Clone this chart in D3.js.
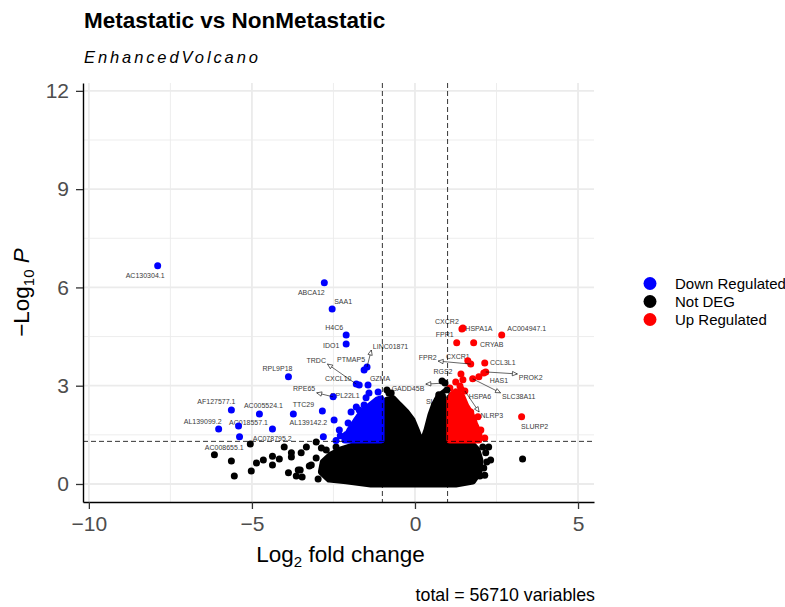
<!DOCTYPE html>
<html>
<head>
<meta charset="utf-8">
<script src="https://cdn.jsdelivr.net/npm/d3@7"></script>
<style>
  body { margin: 0; background: #fff; }
  svg { display: block; }
  text { font-family: "Liberation Sans", Arial, sans-serif; }
</style>
</head>
<body>
<svg id="chart" width="785" height="607"></svg>
<script>
// ---- data -------------------------------------------------------------
const xTicks = [-10, -5, 0, 5];
const xMinor = [-7.5, -2.5, 2.5];
const yTicks = [0, 3, 6, 9, 12];
const yMinor = [1.5, 4.5, 7.5, 10.5];
const fcCutoff = 1;
const pCutoff = 0.05;
const totalVariables = 56710;
const legendLabels = ["Down Regulated", "Not DEG", "Up Regulated"];

// labelled genes: name, log2 fold change, -log10 p
const labelGenes = ["AC130304.1","ABCA12","SAA1","H4C6","IDO1","LINC01871","PTMAP5","TRDC","CXCL10","GZMA",
  "RPE65","RPL22L1","TTC29","AL139142.2","RPL9P18","AF127577.1","AC005524.1","AL139099.2","AC018557.1","AC078795.2",
  "AC008655.1","CXCR2","HSPA1A","AC004947.1","FPR1","CRYAB","FPR2","CXCR1","CCL3L1","PROK2",
  "HAS1","SLC38A11","RGS2","GADD45B","SLC2A3","HSPA6","NLRP3","GBP4","SLURP2"];
const labelFC = [-7.89,-2.78,-2.54,-2.11,-2.11,-1.47,-1.56,-1.80,-1.71,-1.44,
  -2.51,-1.50,-3.73,-2.84,-3.88,-5.63,-4.77,-6.02,-5.41,-4.01,
  -5.05,1.44,1.47,2.66,1.28,1.80,1.71,1.62,2.14,2.17,
  1.96,1.77,1.41,0.92,0.98,1.41,1.53,-0.80,3.27];
const labelP = [6.66,6.14,5.34,4.55,4.27,3.57,3.48,3.05,3.02,3.02,
  2.66,2.63,2.14,2.23,3.27,2.26,2.14,1.68,1.77,1.13,
  1.22,4.73,4.76,4.55,4.31,4.31,3.66,3.76,3.69,3.42,
  3.27,3.21,3.36,3.08,2.87,2.90,2.84,2.78,2.05];

// unlabelled genes [log2FC, -log10 p]
const downPoints = [[-1.41,2.78],[-1.13,2.81],[-1.96,2.20],[-1.80,2.35],[-2.48,1.95],[-2.81,1.44],
  [-2.32,1.65],[-5.38,1.44],[-4.37,1.68],[-2.11,1.50],[-2.05,1.86],[-2.29,1.47],[-2.42,1.33],
  [-1.71,2.26],[-1.56,2.41]];
const upPoints = [[2.11,3.39],[1.25,3.11],[1.38,2.99],[1.47,3.18],[1.93,2.05],[2.02,1.65],
  [2.14,1.40],[1.71,2.20],[1.07,2.93]];
const nsPoints = [[-6.15,0.89],[-5.63,0.70],[-5.54,0.24],[-5.02,0.40],[-4.86,0.64],[-4.65,0.73],
  [-4.37,0.85],[-4.37,0.58],[-4.16,0.76],[-3.88,0.34],[-3.79,0.95],[-3.64,0.24],[-3.52,0.43],
  [-3.49,0.95],[-3.33,1.13],[-3.03,1.28],[-3.03,0.79],[-2.97,0.15],[-2.72,1.04],[-2.66,0.24],
  [-2.51,0.73],[-2.26,0.27],[-3.24,0.55],[1.99,0.24],[2.11,0.49],[2.17,0.95],[2.08,1.13],
  [2.32,0.73],[3.30,0.76],[-0.86,2.87],[-0.73,2.78],[0.83,3.14],[0.86,2.63],[0.73,2.72],
  [-3.79,0.82],[-3.58,0.43],[-3.46,0.21],[-3.18,0.58],[-2.87,1.10],[-2.81,0.58],[-2.42,1.13],
  [2.20,0.67],[2.14,0.27],[2.26,1.13]];

// outlines of the overplotted cores [log2FC, -log10 p]
const nsCore = [[-2.87,0.37],[-2.81,0.67],[-2.57,0.89],[-2.26,1.04],[-1.90,1.16],[-1.47,1.25],
  [-1.10,1.28],[-0.98,1.59],[-0.98,2.02],[-0.95,2.38],[-0.86,2.56],[-0.67,2.60],[-0.49,2.41],
  [-0.28,2.20],[-0.09,1.95],[0.06,1.59],[0.21,1.19],[0.37,1.65],[0.49,2.11],[0.61,2.44],
  [0.73,2.66],[0.92,2.81],[0.99,2.63],[0.99,1.95],[1.04,1.28],[1.41,1.28],[1.71,1.25],
  [1.90,1.04],[1.99,0.73],[1.96,0.37],[1.77,0.09],[1.25,0.0],[0.49,0.0],[0.0,0.0],
  [-0.58,0.0],[-1.35,0.0],[-2.11,0.10],[-2.63,0.15]];
const downCore = [[-2.15,1.34],[-1.99,1.65],[-1.81,1.92],[-1.63,2.17],[-1.38,2.38],[-1.16,2.56],
  [-1.04,2.60],[-1.04,1.34]];
const upCore = [[1.07,2.66],[1.25,2.81],[1.44,2.66],[1.56,2.38],[1.71,2.14],[1.83,1.83],
  [1.96,1.53],[1.96,1.34],[1.07,1.34]];

// ---- layout -----------------------------------------------------------
// label centre offsets from their point (px) and which ones get a connector
const labelNudge = [[-12.5,9.5],[-13,10],[11,-8],[-12,-7],[-15,1],[23.5,-21],[-13,-10],[-40,-24],[-21,-7],[12,-7],
  [-29,-8],[-21,-2],[10,-9],[-14,12],[-11,-8],[-15,-8],[4,-8],[-16,-7],[10,-3],[-12,-8],
  [-26,3],[-15,-8],[16,0],[25,-6],[-12,-8],[18,2],[-43,-7],[-10,-4],[18,-1],[45,6],
  [20,4],[46,18],[-18,-2],[-37,5],[-8,12],[19,8],[27,25],[3,13],[13,10]];
const withConnector = new Set(["LINC01871","TRDC","RPE65","FPR2","PROK2","SLC38A11","GADD45B","SLC2A3","NLRP3"]);

const colours = { down: "#0000ff", ns: "#000000", up: "#ff0000" };
const R = 3.5;

const svg = d3.select("#chart");
const x = d3.scaleLinear().domain([-10.18, 5.49]).range([83, 594]);
const y = d3.scaleLinear().domain([-0.55, 12.24]).range([502, 83]);
const [x0, x1] = x.range();
const [yb, yt] = y.range();

function groupOf(fc, p) {
  if (p > -Math.log10(pCutoff) && fc <= -fcCutoff) return "down";
  if (p > -Math.log10(pCutoff) && fc >= fcCutoff) return "up";
  return "ns";
}

// ---- grid -------------------------------------------------------------
const grid = svg.append("g");
grid.selectAll(".vmin").data(xMinor).join("line")
  .attr("x1", d => x(d)).attr("x2", d => x(d)).attr("y1", yt).attr("y2", yb)
  .attr("stroke", "#ebebeb").attr("stroke-width", 0.9);
grid.selectAll(".hmin").data(yMinor).join("line")
  .attr("y1", d => y(d)).attr("y2", d => y(d)).attr("x1", x0).attr("x2", x1)
  .attr("stroke", "#ebebeb").attr("stroke-width", 0.9);
grid.selectAll(".vmaj").data(xTicks).join("line")
  .attr("x1", d => x(d)).attr("x2", d => x(d)).attr("y1", yt).attr("y2", yb)
  .attr("stroke", "#ebebeb").attr("stroke-width", 1.8);
grid.selectAll(".hmaj").data(yTicks).join("line")
  .attr("y1", d => y(d)).attr("y2", d => y(d)).attr("x1", x0).attr("x2", x1)
  .attr("stroke", "#ebebeb").attr("stroke-width", 1.8);

// ---- labels with connectors (drawn beneath the points) ---------------
const labelLayer = svg.append("g");
const segLayer = svg.append("g");
labelGenes.forEach((g, i) => {
  const px = x(labelFC[i]), py = y(labelP[i]);
  const cx = px + labelNudge[i][0], cy = py + labelNudge[i][1];
  const t = labelLayer.append("text")
    .attr("x", cx).attr("y", cy + 2.5)
    .attr("text-anchor", "middle")
    .attr("font-size", 7).attr("fill", "#3a3a3a")
    .text(g);
  if (withConnector.has(g)) {
    const w = t.node().getComputedTextLength();
    const bx0 = cx - w / 2 - 1.5, bx1 = cx + w / 2 + 1.5, by0 = cy - 4, by1 = cy + 4;
    const ex = Math.max(bx0, Math.min(px, bx1));
    const ey = Math.max(by0, Math.min(py, by1));
    segLayer.append("line")
      .attr("x1", px).attr("y1", py).attr("x2", ex).attr("y2", ey)
      .attr("stroke", "#000").attr("stroke-width", 0.6);
    const ang = Math.atan2(ey - py, ex - px);
    const L = 5, H = 2.2;
    const bxp = ex - L * Math.cos(ang), byp = ey - L * Math.sin(ang);
    const tri = [
      [ex, ey],
      [bxp + H * Math.sin(ang), byp - H * Math.cos(ang)],
      [bxp - H * Math.sin(ang), byp + H * Math.cos(ang)]
    ];
    segLayer.append("path")
      .attr("d", "M" + tri.map(p => p.join(",")).join("L") + "Z")
      .attr("fill", "#fff").attr("stroke", "#000").attr("stroke-width", 0.6);
  }
});

// ---- points -----------------------------------------------------------
const pts = svg.append("g");
const hull = d3.line().x(d => x(d[0])).y(d => y(d[1])).curve(d3.curveLinearClosed);
function drawGroup(core, points, col) {
  pts.append("path").attr("d", hull(core))
    .attr("fill", col).attr("stroke", col)
    .attr("stroke-width", 2 * R).attr("stroke-linejoin", "round");
  pts.append("g").selectAll("circle").data(points).join("circle")
    .attr("cx", d => x(d[0])).attr("cy", d => y(d[1])).attr("r", R).attr("fill", col);
}
drawGroup(nsCore, nsPoints, colours.ns);
drawGroup(downCore, downPoints, colours.down);
drawGroup(upCore, upPoints, colours.up);
pts.append("g").selectAll("circle").data(labelGenes).join("circle")
  .attr("cx", (d, i) => x(labelFC[i])).attr("cy", (d, i) => y(labelP[i])).attr("r", R)
  .attr("fill", (d, i) => colours[groupOf(labelFC[i], labelP[i])]);
svg.node().appendChild(segLayer.node());

// ---- cut-off lines ----------------------------------------------------
const cut = svg.append("g").attr("stroke", "#000").attr("stroke-width", 0.8).attr("stroke-dasharray", "5,3");
[-fcCutoff, fcCutoff].forEach(v => cut.append("line")
  .attr("x1", x(v)).attr("x2", x(v)).attr("y1", yt).attr("y2", yb));
cut.append("line").attr("x1", x0).attr("x2", x1)
  .attr("y1", y(-Math.log10(pCutoff))).attr("y2", y(-Math.log10(pCutoff)));

// ---- axes -------------------------------------------------------------
const yAxis = svg.append("g").attr("transform", `translate(${x0},0)`)
  .call(d3.axisLeft(y).tickValues(yTicks).tickSize(7).tickSizeOuter(0).tickPadding(7));
const xAxis = svg.append("g").attr("transform", `translate(0,${yb})`)
  .call(d3.axisBottom(x).tickValues(xTicks).tickSize(7).tickSizeOuter(0).tickPadding(7));
[yAxis, xAxis].forEach(a => {
  a.select(".domain").attr("stroke", "#000").attr("stroke-width", 1.4);
  a.selectAll(".tick line").attr("stroke", "#333").attr("stroke-width", 1.3);
  a.selectAll(".tick text").attr("font-size", 21).attr("fill", "#4d4d4d")
    .attr("font-family", "Liberation Sans, Arial, sans-serif");
});

// ---- titles -----------------------------------------------------------
svg.append("text").attr("x", 84).attr("y", 28)
  .attr("font-size", 22.5).attr("font-weight", "bold").attr("fill", "#000")
  .text("Metastatic vs NonMetastatic");
svg.append("text").attr("x", 84).attr("y", 63)
  .attr("font-size", 16.5).attr("font-style", "italic").attr("letter-spacing", 2.9).attr("fill", "#000")
  .text("EnhancedVolcano");

const xt = svg.append("text").attr("x", (x0 + x1) / 2 + 2).attr("y", 562)
  .attr("text-anchor", "middle").attr("font-size", 22.5).attr("fill", "#000");
xt.append("tspan").text("Log");
xt.append("tspan").attr("font-size", 15).attr("dy", 5).text("2");
xt.append("tspan").attr("dy", -5).text(" fold change");

const yt_ = svg.append("text").attr("transform", `translate(29,${(yt + yb) / 2}) rotate(-90)`)
  .attr("text-anchor", "middle").attr("font-size", 22.5).attr("fill", "#000");
yt_.append("tspan").text("\u2212Log");
yt_.append("tspan").attr("font-size", 15).attr("dy", 5).text("10");
yt_.append("tspan").attr("dy", -5).text(" ");
yt_.append("tspan").attr("font-style", "italic").text("P");

svg.append("text").attr("x", 595).attr("y", 601).attr("text-anchor", "end")
  .attr("font-size", 17.8).attr("fill", "#000")
  .text(`total = ${totalVariables} variables`);

// ---- legend -----------------------------------------------------------
const legend = svg.append("g");
const legendKeys = ["down", "ns", "up"];
legendLabels.forEach((lab, i) => {
  const ly = 283.5 + i * 18;
  legend.append("circle").attr("cx", 650).attr("cy", ly).attr("r", 6.5).attr("fill", colours[legendKeys[i]]);
  legend.append("text").attr("x", 675).attr("y", ly + 5.5).attr("font-size", 15).attr("fill", "#000").text(lab);
});
</script>
</body>
</html>
